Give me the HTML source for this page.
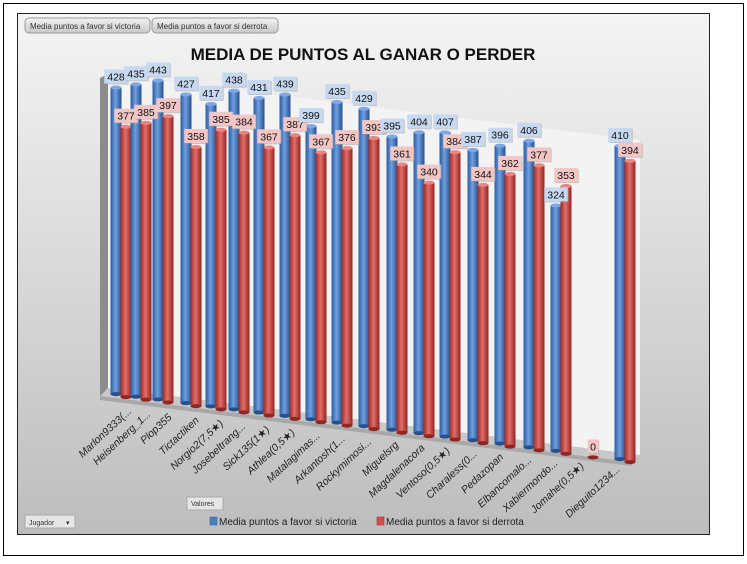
<!DOCTYPE html><html><head><meta charset="utf-8"><style>
body{margin:0;background:#fff;width:747px;height:559px;overflow:hidden;font-family:"Liberation Sans",sans-serif}
</style></head><body>
<svg id="s" width="747" height="559" xmlns="http://www.w3.org/2000/svg" font-family="Liberation Sans, DejaVu Sans, sans-serif">
<defs>
<linearGradient id="bg" x1="0" y1="0" x2="0" y2="1"><stop offset="0" stop-color="#f4f4f4"/><stop offset="1" stop-color="#bdbdbd"/></linearGradient>
<linearGradient id="gb" x1="0" x2="1"><stop offset="0" stop-color="#2b5c9f"/><stop offset=".45" stop-color="#6f9fe2"/><stop offset="1" stop-color="#274f8a"/></linearGradient>
<linearGradient id="gr" x1="0" x2="1"><stop offset="0" stop-color="#9a2b28"/><stop offset=".45" stop-color="#e46e68"/><stop offset="1" stop-color="#8f2623"/></linearGradient>
<linearGradient id="btn" x1="0" y1="0" x2="0" y2="1"><stop offset="0" stop-color="#f2f2f2"/><stop offset="1" stop-color="#c8c8c8"/></linearGradient>
</defs>
<rect x="3.5" y="3.5" width="740" height="552" fill="#fff" stroke="#000"/>
<rect x="17.5" y="13.5" width="692" height="521" fill="url(#bg)" stroke="#222"/>
<rect x="25" y="18" width="125" height="15" rx="4" fill="url(#btn)" stroke="#999"/>
<text x="30" y="29" font-size="8" fill="#333">Media puntos a favor si victoria</text>
<rect x="152" y="18" width="126" height="15" rx="4" fill="url(#btn)" stroke="#999"/>
<text x="157" y="29" font-size="8" fill="#333">Media puntos a favor si derrota</text>
<text x="363" y="60" font-size="17" font-weight="bold" text-anchor="middle" fill="#111">MEDIA DE PUNTOS AL GANAR O PERDER</text>
<polygon points="100,78 108,74 108,392 100,396" fill="#8c8c8c"/>
<polygon points="108,74 640,140 640,455 108,388" fill="#f3f3f3"/>
<polygon points="100,396 108,388 640,455 632,462" fill="#c8c8c8"/>
<polygon points="100,396 632,462 632,466 100,400" fill="#a8a8a8"/>
<g id="bars"></g>
<rect x="187" y="497" width="36" height="13" fill="#e6e6e6" stroke="#aaa"/>
<text x="191" y="506" font-size="7" fill="#333">Valores</text>
<rect x="25" y="515" width="50" height="13" fill="#e6e6e6" stroke="#aaa"/>
<text x="29" y="525" font-size="7" fill="#333">Jugador</text>
<text x="66" y="525" font-size="7" fill="#333">▾</text>
<rect x="210" y="517" width="7" height="8" fill="#4a7ec4" stroke="#2b5c9f" stroke-width=".5"/>
<text x="219" y="525" font-size="10" fill="#222">Media puntos a favor si victoria</text>
<rect x="377" y="517" width="7" height="8" fill="#d0504c" stroke="#9a2b28" stroke-width=".5"/>
<text x="386" y="525" font-size="10" fill="#222">Media puntos a favor si derrota</text>
</svg>
<script>
var names=["Marlon9333(...","Heisenberg_1...","Plop355","Tictactiken","Norgio2(7,5★)","Josebeltrang...","Sick135(1★)","Athlea(0,5★)","Matalagimas...","Arkantosh(1...","Rockymimosi...","Miguelsrg","Magdalenacora","Ventoso(0,5★)","Charaless(0...","Pedazopan","Elbancomalo...","Xabiermondo...","Jomahe(0,5★)","Dieguito1234..."];
var bv=[428,435,443,427,417,438,431,439,399,435,429,395,404,407,387,396,406,324,null,410];
var rv=[377,385,397,358,385,384,367,387,367,376,393,361,340,384,344,362,377,353,0,394];
var bx=[116,136,158,186,211,234,259,285,311,337,364,392,419,445,473,500,529,556,583,620];
var g=document.getElementById('bars'),h='',L='';
function bar(x,v,base,fill,lab){
 var k=0.717+(x-123)/489*0.046;var top=base-v*k;var w=11;
 var s='<rect x="'+(x-w/2)+'" y="'+top+'" width="'+w+'" height="'+(base-top)+'" fill="url(#'+fill+')"/>';
 s+='<ellipse cx="'+x+'" cy="'+top+'" rx="5.5" ry="2" fill="'+(fill=='gb'?'#7fa9e6':'#e98682')+'"/>';
 s+='<ellipse cx="'+x+'" cy="'+base+'" rx="5.5" ry="2" fill="'+(fill=='gb'?'#274f8a':'#8f2623')+'"/>';
 var t=''+v,bw=t.length*6.5+4;
 L+='<rect x="'+(x-bw/2+1)+'" y="'+(top-17)+'" width="'+bw+'" height="14" fill="#999" opacity=".5"/>';
 L+='<rect x="'+(x-bw/2)+'" y="'+(top-18)+'" width="'+bw+'" height="14" fill="'+lab+'"/>';
 L+='<text x="'+x+'" y="'+(top-7)+'" font-size="10.5" text-anchor="middle" fill="#111">'+t+'</text>';
 return s;}
for(var i=0;i<20;i++){var x=bx[i],base=395+0.129*(x-123);
 if(bv[i]!=null)h+=bar(x,bv[i],base,'gb','#c6d9f0');
 h+=bar(x+10,rv[i],base+3,'gr','#f2c6c4');
 var ex=x+16-i*0.8,ey=412+58*i/19;
 L+='<text transform="translate('+ex+','+ey+') rotate(-43)" font-size="10.5" font-style="italic" text-anchor="end" fill="#222">'+names[i]+'</text>';}
g.innerHTML=h+L;
</script>
</body></html>
